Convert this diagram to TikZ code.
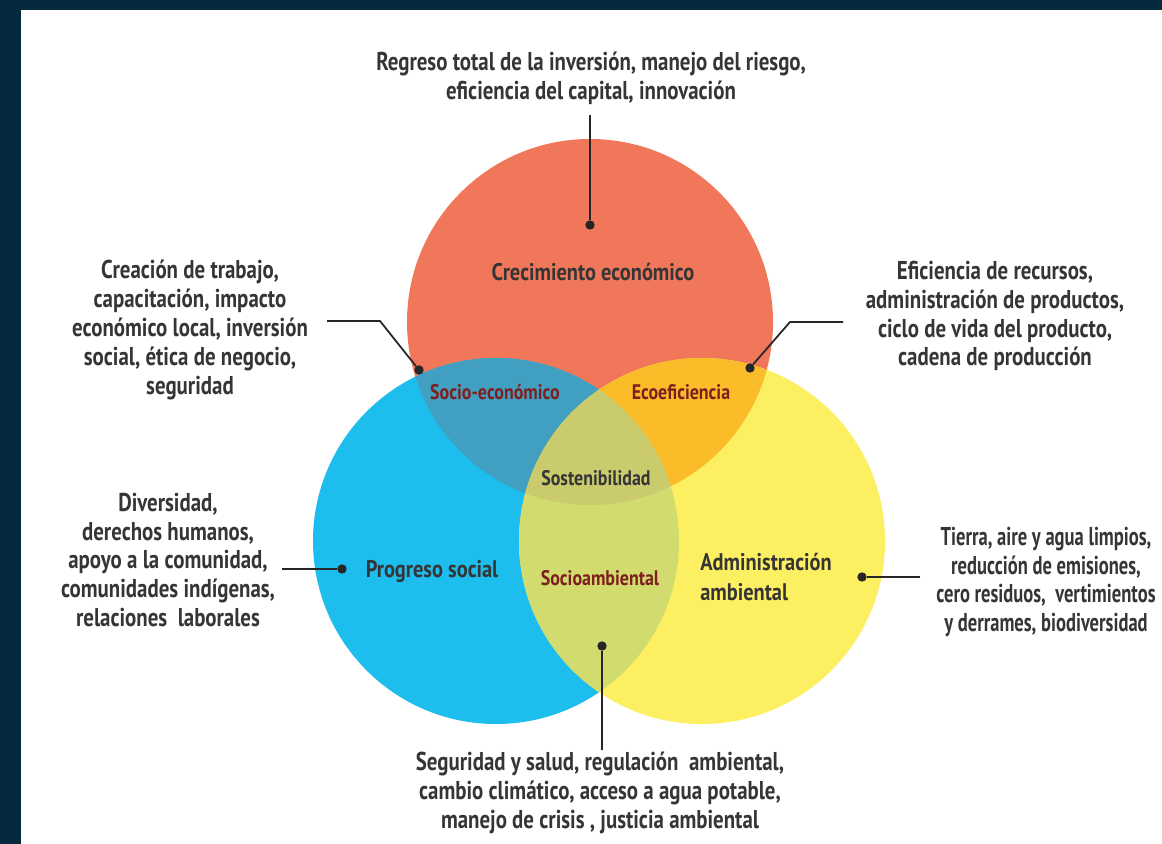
\documentclass[tikz,border=0pt]{standalone}
\usepackage{fontspec}
\newfontfamily\narrowfont{PT Sans}[FakeStretch=0.81]
\newfontfamily\tightfont{PT Sans}[FakeStretch=0.72]
\newfontfamily\labelfont{PT Sans}[FakeStretch=0.85]
\definecolor{frame}{HTML}{052A3D}
\definecolor{econ}{HTML}{F1775B}
\definecolor{social}{HTML}{1DBDED}
\definecolor{envir}{HTML}{FDEF62}
\definecolor{econsocial}{HTML}{419FC1}
\definecolor{econenvir}{HTML}{FBBC2A}
\definecolor{socialenvir}{HTML}{D1DB6E}
\definecolor{allthree}{HTML}{C9CB6C}
\definecolor{txtgray}{HTML}{353535}
\definecolor{lensred}{HTML}{7E1F1F}

\begin{document}
\begin{tikzpicture}[x=0.03cm,y=-0.03cm,
  desc/.style={text=txtgray,align=center,font=\narrowfont\bfseries\fontsize{22}{24.7}\selectfont},
  mainlab/.style={text=txtgray,align=left,font=\labelfont\bfseries\fontsize{20.5}{25}\selectfont},
  lenslab/.style={text=lensred,font=\labelfont\bfseries\fontsize{18}{22}\selectfont},
  dot/.style={circle,fill=black!85,inner sep=0pt,minimum size=8pt},
  link/.style={black!85,line width=1.5pt}]
\useasboundingbox (0,0) rectangle (1162,844);
% frame
\fill[frame] (0,0) rectangle (1162,844);
\fill[white] (21,10) rectangle (1162,844);
% circles
\def\R{5.49cm}
\coordinate (ce) at (590,322);
\coordinate (cs) at (496,541);
\coordinate (cv) at (702,541);
\fill[econ] (ce) circle (\R);
\fill[social] (cs) circle (\R);
\fill[envir] (cv) circle (\R);
% economic and social
\scope
\clip (ce) circle (\R);
\fill[econsocial] (cs) circle (\R);
\fill[econenvir] (cv) circle (\R);
\endscope
% social and environment
\scope
\clip (cs) circle (\R);
\fill[socialenvir] (cv) circle (\R);
\clip (ce) circle (\R);
\fill[allthree] (cv) circle (\R);
\endscope
% labels in the circles
\node[mainlab] (crec) at (593,272) {Crecimiento económico};
\node[mainlab] (prog) at (432,572) {Progreso social};
\node[mainlab] (admin) at (766,577) {Administración\\ambiental};
\node[lenslab,text=txtgray] (sost) at (596,478) {Sostenibilidad};
\node[lenslab] (soceco) at (495,392) {Socio-económico};
\node[lenslab] (ecoef) at (681,392) {Ecoeficiencia};
\node[lenslab] (socamb) at (600,578) {Socioambiental};
% descriptions
\node[desc] (tecon) at (591,78) {Regreso total de la inversión, manejo del riesgo,\\eficiencia del capital, innovación};
\node[desc] (tsoceco) at (190,330) {Creación de trabajo,\\capacitación, impacto\\económico local, inversión\\social, ética de negocio,\\seguridad};
\node[desc] (tecoef) at (995,316) {Eficiencia de recursos,\\administración de productos,\\ciclo de vida del producto,\\cadena de producción};
\node[desc] (tsocial) at (168,560) {Diversidad,\\derechos humanos,\\apoyo a la comunidad,\\comunidades indígenas,\\relaciones\ \ laborales};
\node[desc,font=\tightfont\bfseries\fontsize{22}{24.7}\selectfont] (tenvir) at (1046,582) {Tierra, aire y agua limpios,\\reducción de emisiones,\\cero residuos,\ \ vertimientos\\y derrames, biodiversidad};
\node[desc] (tsocamb) at (600,793) {Seguridad y salud, regulación\ \ ambiental,\\cambio climático, acceso a agua potable,\\manejo de crisis , justicia ambiental};
% dots
\node[dot] (decon) at (590,225) {};
\node[dot] (dsoceco) at (419,370) {};
\node[dot] (decoef) at (750,368) {};
\node[dot] (dsocial) at (342,569) {};
\node[dot] (denvir) at (862,577) {};
\node[dot] (dsocamb) at (602,646) {};
% connectors
\coordinate (econ1) at (590,115);
\coordinate (soceco1) at (327,321);
\coordinate (soceco2) at (380,321);
\coordinate (ecoef1) at (843,322);
\coordinate (ecoef2) at (790,322);
\coordinate (social1) at (282,569);
\coordinate (envir1) at (920,577);
\coordinate (socamb1) at (602,750);
\draw[link] (econ1) -- (decon);
\draw[link] (soceco1) -- (soceco2) -- (dsoceco);
\draw[link] (ecoef1) -- (ecoef2) -- (decoef);
\draw[link] (social1) -- (dsocial);
\draw[link] (envir1) -- (denvir);
\draw[link] (socamb1) -- (dsocamb);
\end{tikzpicture}
\end{document}
